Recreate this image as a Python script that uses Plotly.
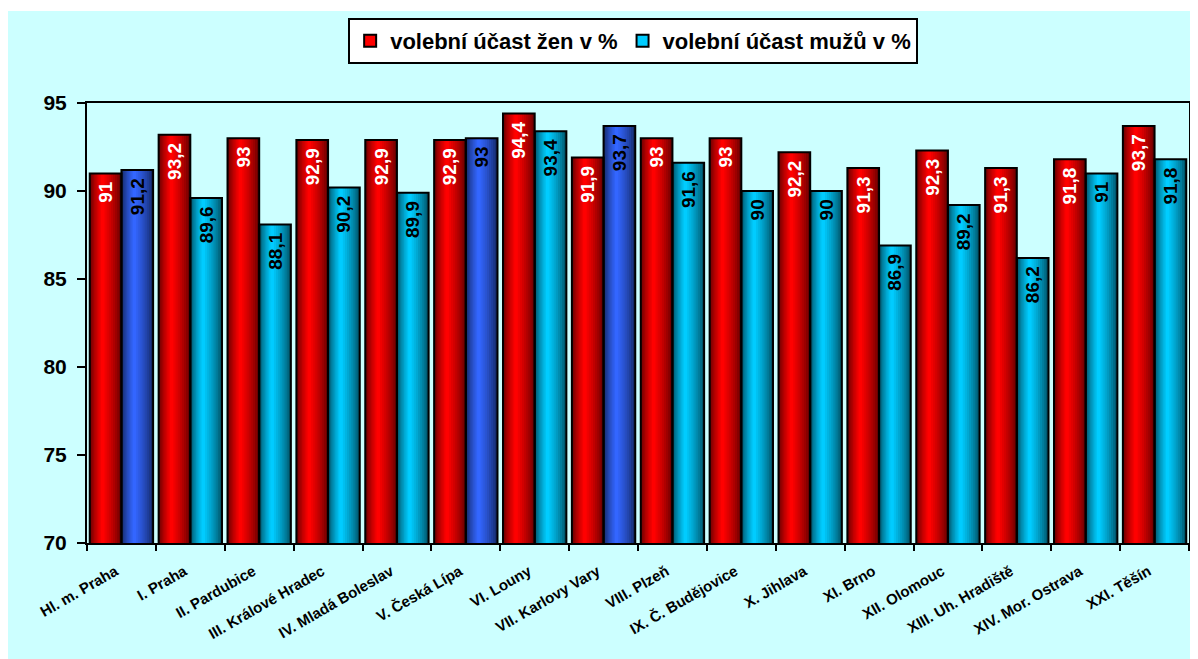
import plotly.graph_objects as go

categories = ["Hl. m. Praha", "I. Praha", "II. Pardubice", "III. Králové Hradec",
              "IV. Mladá Boleslav", "V. Česká Lípa", "VI. Louny", "VII. Karlovy Vary",
              "VIII. Plzeň", "IX. Č. Budějovice", "X. Jihlava", "XI. Brno",
              "XII. Olomouc", "XIII. Uh. Hradiště", "XIV. Mor. Ostrava", "XXI. Těšín"]
zeny = [91, 93.2, 93, 92.9, 92.9, 92.9, 94.4, 91.9, 93, 93, 92.2, 91.3, 92.3, 91.3, 91.8, 93.7]
muzi = [91.2, 89.6, 88.1, 90.2, 89.9, 93, 93.4, 93.7, 91.6, 90, 90, 86.9, 89.2, 86.2, 91, 91.8]
y_ticks = [70, 75, 80, 85, 90, 95]

RED = (255, 0, 0)
CYAN = (0, 204, 255)
BLUE = (51, 102, 255)
FONT = "Liberation Sans, Arial, sans-serif"


def fmt(v):
    # trailing no-break space keeps the label a little below the bar top
    return f"{v:g}".replace(".", ",") + "\u00a0"


def hexc(rgb):
    return "#%02x%02x%02x" % tuple(int(round(c)) for c in rgb)


def mix(a, b, t):
    return tuple(a[i] + (b[i] - a[i]) * t for i in range(3))


def dark(rgb, f=0.4):
    return tuple(c * f for c in rgb)


men_rgb = [BLUE if m > z else CYAN for z, m in zip(zeny, muzi)]
women_rgb = [RED for _ in zeny]

BAR_W = 0.46            # width of one bar in category units
OFFSETS = {"w": -0.46, "m": 0.0}
N_STEPS = 9
CENTER = 0.4            # brightest point across the bar (fraction from left)

fig = go.Figure()


def add_gradient_bars(values, rgbs, key):
    for k in range(N_STEPS):
        s = 1 - k / N_STEPS
        t = (k / (N_STEPS - 1)) ** 0.75
        cols = [hexc(mix(dark(c), c, t)) for c in rgbs]
        fig.add_trace(go.Bar(
            x=categories, y=values, width=BAR_W * s,
            offset=OFFSETS[key] + BAR_W * CENTER * (1 - s),
            marker=dict(color=cols, line=dict(width=0)),
            showlegend=False, hoverinfo="skip",
        ))


add_gradient_bars(zeny, women_rgb, "w")
add_gradient_bars(muzi, men_rgb, "m")

# outline + labels on top
fig.add_trace(go.Bar(
    x=categories, y=zeny, width=BAR_W, offset=OFFSETS["w"], name="volební účast žen v %",
    marker=dict(color="rgba(0,0,0,0)", line=dict(color="black", width=2)),
    text=[fmt(v) for v in zeny], textposition="inside", insidetextanchor="end",
    textangle=-90, textfont=dict(color="white", size=19, family=FONT, weight="bold"),
    constraintext="none", showlegend=False, hoverinfo="x+y",
))
fig.add_trace(go.Bar(
    x=categories, y=muzi, width=BAR_W, offset=OFFSETS["m"], name="volební účast mužů v %",
    marker=dict(color="rgba(0,0,0,0)", line=dict(color="black", width=2)),
    text=[fmt(v) for v in muzi], textposition="inside", insidetextanchor="end",
    textangle=-90, textfont=dict(color="black", size=19, family=FONT, weight="bold"),
    constraintext="none", showlegend=False, hoverinfo="x+y",
))
# legend entries
fig.add_trace(go.Bar(x=[categories[0]], y=[None], name="volební účast žen v %",
                     marker=dict(color=hexc(RED), line=dict(color="black", width=2))))
fig.add_trace(go.Bar(x=[categories[0]], y=[None], name="volební účast mužů v %",
                     marker=dict(color=hexc(CYAN), line=dict(color="black", width=2))))

# figure sits at (8,8) in the page; plot area in figure coords: x 78.7..1181, y 95..535
PL, PR, PT, PB = 78.7, 1181.0, 95.0, 535.0
PW, PH = PR - PL, PB - PT

fig.add_shape(type="rect", xref="paper", yref="paper",
              x0=(-2 - PL) / PW, x1=(1200 - PL) / PW,
              y0=(PB - 700) / PH, y1=(PB - 3) / PH,
              fillcolor="#CCFFFF", line=dict(width=0), layer="below")

fig.update_layout(
    width=1190, height=651,
    margin=dict(l=79, r=9, t=95, b=116, autoexpand=False),
    paper_bgcolor="white", plot_bgcolor="#C0C0C0",
    barmode="overlay",
    font=dict(family=FONT, color="black"),
    legend=dict(orientation="h", x=(625 - PL) / PW, xanchor="center",
                y=(PB - 10) / PH, yanchor="top",
                bgcolor="white", bordercolor="black", borderwidth=2,
                font=dict(size=22, family=FONT, weight="bold"),
                itemwidth=30, tracegroupgap=0),
    showlegend=True,
)
fig.update_xaxes(
    type="category", tickson="boundaries", ticks="outside", ticklen=6, tickwidth=2,
    tickcolor="black", showline=True, linecolor="black", linewidth=2, mirror=True,
    tickangle=-30, tickfont=dict(size=15, family=FONT, weight="bold"), showgrid=False,
    ticklabelshift=-6, ticklabelstandoff=12, range=[-0.5, 15.5],
)
fig.update_yaxes(
    range=[70, 95], tickvals=y_ticks, ticks="outside", ticklen=8, tickwidth=2,
    tickcolor="black", showline=True, linecolor="black", linewidth=2, mirror=True,
    showgrid=False, zeroline=False, tickfont=dict(size=21, family=FONT, weight="bold"),
    ticklabelstandoff=6,
)

fig.write_html("out.html")
